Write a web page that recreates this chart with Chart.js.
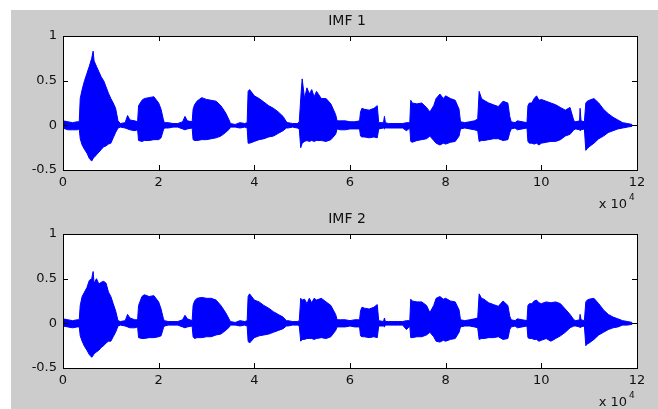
<!DOCTYPE html>
<html>
<head>
<meta charset="utf-8">
<script src="https://cdn.jsdelivr.net/npm/chart.js@4.4.1/dist/chart.umd.min.js"></script>
<style>
  html, body { margin: 0; padding: 0; background: #ffffff; }
  body { width: 658px; height: 409px; position: relative; overflow: hidden; }
  #fig { position: absolute; left: 11px; top: 10px; width: 647px; height: 399px; background: #cccccc; }
  canvas { position: absolute; left: 11px; }
  #c1 { top: 10px; }
  #c2 { top: 208px; }
</style>
</head>
<body>
<div id="fig"></div>
<canvas id="c1" width="647" height="200"></canvas>
<canvas id="c2" width="647" height="200"></canvas>
<script>
// sample positions along the time axis (x 10^4 samples)
var sampleX = [
  0, 0.1, 0.2, 0.3, 0.34,
  0.36, 0.4, 0.45, 0.5, 0.55, 0.6, 0.63, 0.65, 0.7, 0.75, 0.8, 0.85, 0.9, 0.95, 1.0, 1.05, 1.1, 1.15,
  1.2, 1.3, 1.35, 1.4, 1.5, 1.56,
  1.58, 1.65, 1.7, 1.8, 1.9, 2.0, 2.05, 2.1,
  2.12, 2.2, 2.3, 2.4, 2.5, 2.55, 2.6, 2.7,
  2.72, 2.75, 2.8, 2.9, 3.0, 3.1, 3.2, 3.3, 3.4, 3.48,
  3.5, 3.6, 3.7, 3.8, 3.85,
  3.87, 3.9, 4.0, 4.1, 4.2, 4.3, 4.4, 4.5, 4.6, 4.67,
  4.7, 4.8, 4.9, 4.94,
  4.97, 5.0, 5.05, 5.1, 5.15, 5.2, 5.25, 5.3, 5.4, 5.5, 5.6, 5.7,
  5.73, 5.8, 5.9, 6.0, 6.1, 6.2,
  6.22, 6.25, 6.3, 6.4, 6.5, 6.57,
  6.6, 6.7, 6.72, 6.74, 6.8, 6.9, 7.0, 7.1, 7.18, 7.25,
  7.27, 7.3, 7.4, 7.5, 7.6, 7.67, 7.75, 7.8, 7.88, 7.95, 8.0, 8.1, 8.2, 8.28,
  8.31, 8.4, 8.5, 8.6, 8.67,
  8.7, 8.75, 8.8, 8.9, 9.0, 9.1, 9.2, 9.3, 9.34,
  9.37, 9.45, 9.5, 9.6, 9.7,
  9.72, 9.75, 9.8, 9.85, 9.9, 9.95, 10.0, 10.1, 10.2, 10.3, 10.4, 10.5, 10.6, 10.68,
  10.72, 10.8, 10.81, 10.83, 10.9,
  10.93, 10.96, 11.0, 11.1, 11.2, 11.3, 11.4, 11.5, 11.6, 11.7, 11.8, 11.9
];

// IMF 1 envelope (top / bottom of the waveform)
var imf1Upper = [
  0.05, 0.04, 0.03, 0.04, 0.04,
  0.3, 0.4, 0.5, 0.58, 0.66, 0.75, 0.83, 0.72, 0.66, 0.6, 0.54, 0.5, 0.43, 0.36, 0.3, 0.25, 0.19, 0.05,
  0.02, 0.03, 0.11, 0.06, 0.05, 0.04,
  0.22, 0.28, 0.3, 0.31, 0.32, 0.25, 0.18, 0.06,
  0.03, 0.03, 0.02, 0.02, 0.04, 0.1, 0.05, 0.04,
  0.18, 0.23, 0.27, 0.31, 0.29, 0.28, 0.27, 0.22, 0.14, 0.05,
  0.02, 0.01, 0.03, 0.02, 0.03,
  0.38, 0.4, 0.33, 0.3, 0.26, 0.22, 0.19, 0.15, 0.1, 0.04,
  0.03, 0.02, 0.02, 0.04,
  0.3, 0.52, 0.3, 0.42, 0.35, 0.4, 0.32, 0.38, 0.3, 0.3, 0.24, 0.12,
  0.05, 0.05, 0.05, 0.04, 0.04, 0.05,
  0.15, 0.19, 0.18, 0.17, 0.19, 0.22,
  0.03, 0.03, 0.1, 0.03, 0.02, 0.02, 0.02, 0.02, 0.03, 0.03,
  0.28, 0.25, 0.24, 0.25, 0.2, 0.15, 0.22, 0.3, 0.35, 0.3, 0.33, 0.3, 0.28, 0.18,
  0.04, 0.03, 0.04, 0.05, 0.07,
  0.38, 0.3, 0.28, 0.25, 0.23, 0.21, 0.27, 0.25, 0.1,
  0.04, 0.03, 0.05, 0.04, 0.03,
  0.22, 0.25, 0.25, 0.3, 0.33, 0.28, 0.29, 0.27, 0.25, 0.23, 0.2, 0.17, 0.2, 0.05,
  0.04, 0.05, 0.19, 0.05, 0.04,
  0.25, 0.27, 0.28, 0.3, 0.25, 0.18, 0.13, 0.09, 0.06, 0.03, 0.02, 0.01
];
var imf1Lower = [
  -0.03, -0.05, -0.05, -0.05, -0.04,
  -0.15, -0.22, -0.27, -0.31, -0.37, -0.4, -0.37, -0.36, -0.33, -0.3, -0.27, -0.24, -0.23, -0.21, -0.2, -0.14, -0.08, -0.03,
  -0.02, -0.03, -0.04, -0.05, -0.06, -0.05,
  -0.17, -0.18, -0.17, -0.17, -0.16, -0.16, -0.14, -0.05,
  -0.03, -0.03, -0.02, -0.02, -0.04, -0.05, -0.04, -0.03,
  -0.16, -0.17, -0.17, -0.16, -0.16, -0.15, -0.14, -0.12, -0.08, -0.04,
  -0.02, -0.02, -0.03, -0.02, -0.03,
  -0.2, -0.2, -0.18, -0.16, -0.15, -0.13, -0.12, -0.09, -0.06, -0.03,
  -0.03, -0.02, -0.03, -0.04,
  -0.25, -0.2, -0.18, -0.17, -0.18, -0.17, -0.18, -0.17, -0.17, -0.18, -0.16, -0.1,
  -0.04, -0.05, -0.05, -0.04, -0.04, -0.04,
  -0.12, -0.13, -0.13, -0.14, -0.13, -0.14,
  -0.04, -0.03, -0.04, -0.03, -0.03, -0.03, -0.03, -0.03, -0.06, -0.03,
  -0.18, -0.19, -0.17, -0.16, -0.15, -0.12, -0.17, -0.2, -0.22, -0.2, -0.21, -0.19, -0.18, -0.12,
  -0.04, -0.03, -0.04, -0.05, -0.06,
  -0.18, -0.17, -0.17, -0.16, -0.15, -0.15, -0.17, -0.16, -0.08,
  -0.04, -0.03, -0.05, -0.04, -0.03,
  -0.18, -0.2, -0.2, -0.21, -0.2, -0.22, -0.2, -0.19, -0.18, -0.18, -0.16, -0.12, -0.1, -0.05,
  -0.04, -0.05, -0.06, -0.05, -0.04,
  -0.28, -0.26, -0.24, -0.2, -0.15, -0.12, -0.08, -0.06, -0.04, -0.03, -0.02, -0.01
];

// IMF 2 envelope
var imf2Upper = [
  0.05, 0.04, 0.03, 0.04, 0.04,
  0.2, 0.3, 0.35, 0.4, 0.48, 0.5, 0.58, 0.45, 0.5, 0.44, 0.46, 0.47, 0.45, 0.35, 0.3, 0.22, 0.14, 0.03,
  0.02, 0.03, 0.1, 0.06, 0.04, 0.04,
  0.2, 0.3, 0.32, 0.3, 0.31, 0.24, 0.16, 0.05,
  0.03, 0.02, 0.02, 0.02, 0.04, 0.09, 0.05, 0.03,
  0.2, 0.25, 0.28, 0.29, 0.28, 0.28, 0.26, 0.2, 0.12, 0.04,
  0.02, 0.01, 0.03, 0.02, 0.03,
  0.3, 0.33, 0.26, 0.24, 0.2, 0.17, 0.13, 0.1, 0.07, 0.03,
  0.03, 0.02, 0.02, 0.03,
  0.28, 0.26, 0.27, 0.22, 0.28, 0.23, 0.28, 0.26, 0.28, 0.24, 0.2, 0.1,
  0.04, 0.04, 0.04, 0.03, 0.04, 0.04,
  0.14, 0.18, 0.17, 0.16, 0.18, 0.21,
  0.03, 0.02, 0.06, 0.02, 0.02, 0.02, 0.02, 0.02, 0.03, 0.03,
  0.27, 0.25, 0.24, 0.24, 0.2, 0.12, 0.2, 0.28, 0.3, 0.27, 0.28, 0.25, 0.24, 0.15,
  0.04, 0.03, 0.04, 0.05, 0.06,
  0.33, 0.28, 0.27, 0.23, 0.21, 0.19, 0.25, 0.2, 0.08,
  0.04, 0.03, 0.05, 0.04, 0.03,
  0.2, 0.22, 0.22, 0.25, 0.26, 0.23, 0.22, 0.24, 0.23, 0.24, 0.22, 0.16, 0.1, 0.04,
  0.03, 0.04, 0.1, 0.04, 0.03,
  0.24, 0.26, 0.27, 0.28, 0.22, 0.15, 0.1, 0.07, 0.05, 0.03, 0.02, 0.01
];
var imf2Lower = [
  -0.03, -0.04, -0.05, -0.04, -0.04,
  -0.14, -0.2, -0.26, -0.3, -0.35, -0.38, -0.36, -0.34, -0.32, -0.3, -0.27, -0.25, -0.22, -0.2, -0.2, -0.15, -0.1, -0.03,
  -0.02, -0.03, -0.04, -0.05, -0.05, -0.04,
  -0.16, -0.17, -0.17, -0.16, -0.16, -0.15, -0.14, -0.05,
  -0.03, -0.02, -0.02, -0.02, -0.04, -0.05, -0.04, -0.03,
  -0.15, -0.17, -0.16, -0.16, -0.15, -0.15, -0.13, -0.12, -0.08, -0.04,
  -0.02, -0.02, -0.03, -0.02, -0.03,
  -0.2, -0.22, -0.16, -0.14, -0.13, -0.12, -0.1, -0.08, -0.06, -0.03,
  -0.03, -0.02, -0.02, -0.03,
  -0.2, -0.18, -0.18, -0.17, -0.17, -0.17, -0.18, -0.17, -0.16, -0.17, -0.15, -0.08,
  -0.04, -0.04, -0.04, -0.03, -0.04, -0.04,
  -0.14, -0.15, -0.15, -0.16, -0.15, -0.16,
  -0.03, -0.03, -0.04, -0.02, -0.02, -0.02, -0.02, -0.02, -0.07, -0.03,
  -0.16, -0.16, -0.15, -0.15, -0.13, -0.1, -0.15, -0.2, -0.21, -0.19, -0.2, -0.18, -0.17, -0.1,
  -0.04, -0.03, -0.03, -0.04, -0.05,
  -0.18, -0.17, -0.17, -0.16, -0.16, -0.15, -0.18, -0.17, -0.07,
  -0.04, -0.03, -0.05, -0.04, -0.03,
  -0.16, -0.17, -0.17, -0.18, -0.18, -0.2, -0.19, -0.17, -0.2, -0.17, -0.14, -0.1, -0.05, -0.03,
  -0.03, -0.04, -0.05, -0.04, -0.03,
  -0.25, -0.23, -0.22, -0.18, -0.13, -0.1, -0.07, -0.05, -0.04, -0.02, -0.02, -0.01
];

var xTicks = [0, 2, 4, 6, 8, 10, 12];
var yTicks = [-0.5, 0, 0.5, 1];
var titles = ["IMF 1", "IMF 2"];

var blue = "#0000ff";
var fontFam = "'DejaVu Sans', 'Liberation Sans', Arial, sans-serif";

function pts(ys) {
  return sampleX.map(function (x, i) { return { x: x, y: ys[i] } });
}

// matlab style box: grey figure, white axes, inside ticks, title, exponent
var matlabBox = {
  id: 'matlabBox',
  beforeDraw: function (chart) {
    var ctx = chart.ctx, a = chart.chartArea;
    ctx.save();
    ctx.fillStyle = "#cccccc";
    ctx.fillRect(0, 0, chart.width, chart.height);
    ctx.fillStyle = "#ffffff";
    ctx.fillRect(a.left, a.top, a.right - a.left, a.bottom - a.top);
    ctx.restore();
  },
  afterDraw: function (chart) {
    var ctx = chart.ctx, a = chart.chartArea;
    var xs = chart.scales.x, ys = chart.scales.y;
    ctx.save();
    ctx.strokeStyle = "#000000";
    ctx.lineWidth = 1;
    ctx.strokeRect(Math.round(a.left) + 0.5, Math.round(a.top) + 0.5,
                   Math.round(a.right - a.left), Math.round(a.bottom - a.top));
    ctx.beginPath();
    xTicks.forEach(function (t) {
      var px = Math.round(xs.getPixelForValue(t)) + 0.5;
      ctx.moveTo(px, a.top); ctx.lineTo(px, a.top + 5);
      ctx.moveTo(px, a.bottom); ctx.lineTo(px, a.bottom - 5);
    });
    yTicks.forEach(function (t) {
      var py = Math.round(ys.getPixelForValue(t)) + 0.5;
      ctx.moveTo(a.left, py); ctx.lineTo(a.left + 5, py);
      ctx.moveTo(a.right, py); ctx.lineTo(a.right - 5, py);
    });
    ctx.stroke();

    ctx.fillStyle = "#111111";
    ctx.textBaseline = "middle";
    ctx.textAlign = "center";
    ctx.font = "14px " + fontFam;
    ctx.fillText(chart.options.plugins.matlabBox.title, (a.left + a.right) / 2 - 3, a.top - 15);

    ctx.textAlign = "right";
    ctx.font = "13px " + fontFam;
    ctx.fillText("x 10", a.right - 10, a.bottom + 35);
    ctx.textAlign = "left";
    ctx.font = "9px " + fontFam;
    ctx.fillText("4", a.right - 8, a.bottom + 28);
    ctx.restore();
  }
};

function makeChart(id, upper, lower, title) {
  return new Chart(document.getElementById(id).getContext('2d'), {
    type: 'line',
    data: {
      datasets: [
        {
          data: pts(upper),
          borderColor: blue,
          backgroundColor: blue,
          borderWidth: 1,
          pointRadius: 0,
          tension: 0,
          fill: '+1'
        },
        {
          data: pts(lower),
          borderColor: blue,
          backgroundColor: blue,
          borderWidth: 1,
          pointRadius: 0,
          tension: 0,
          fill: false
        }
      ]
    },
    options: {
      responsive: false,
      animation: false,
      layout: { padding: { left: 0, right: 21, top: 26, bottom: 0 } },
      scales: {
        x: {
          type: 'linear',
          min: 0, max: 12,
          afterFit: function (s) { s.height = 40 },
          afterBuildTicks: function (s) { s.ticks = xTicks.map(function (v) { return { value: v } }) },
          grid: { display: false, drawTicks: false },
          border: { display: false },
          ticks: {
            color: "#111111", padding: 5, maxRotation: 0,
            font: { family: fontFam, size: 13 },
            callback: function (v) { return String(v) }
          }
        },
        y: {
          min: -0.5, max: 1,
          afterFit: function (s) { s.width = 52 },
          afterBuildTicks: function (s) { s.ticks = yTicks.map(function (v) { return { value: v } }) },
          grid: { display: false, drawTicks: false },
          border: { display: false },
          ticks: {
            color: "#111111", padding: 6,
            font: { family: fontFam, size: 13 },
            callback: function (v) { return String(v) }
          }
        }
      },
      plugins: {
        legend: { display: false },
        tooltip: { enabled: false },
        matlabBox: { title: title }
      }
    },
    plugins: [matlabBox]
  });
}

makeChart('c1', imf1Upper, imf1Lower, titles[0]);
makeChart('c2', imf2Upper, imf2Lower, titles[1]);
</script>
</body>
</html>
